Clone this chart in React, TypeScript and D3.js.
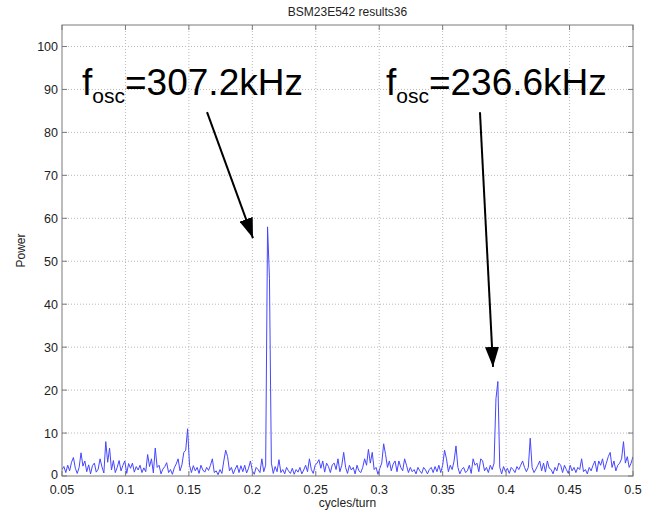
import React from "react";
import * as d3 from "d3";

// Spectrum sampled every 0.0015 cycles/turn starting at 0.05
const freqStart = 0.05;
const freqStep = 0.0015;
const power: number[] = [
  1.5, 2.2, 0.8, 2.5, 1.2, 3.2, 4.3, 1.8, 0.6, 2.0,
  5.4, 2.3, 3.5, 1.0, 2.6, 0.5, 2.4, 3.0, 0.9, 1.6,
  4.0, 2.1, 0.7, 8.0, 3.2, 6.5, 1.4, 3.6, 0.8, 2.0,
  3.6, 1.2, 2.5, 3.5, 0.6, 2.9, 1.8, 3.0, 0.9, 2.2,
  1.4, 2.5, 0.8, 1.9, 1.0, 5.0, 2.2, 4.0, 0.7, 6.5,
  2.0, 2.5, 0.5, 1.6, 2.2, 3.1, 0.8, 1.5, 0.4, 1.9,
  2.8, 4.0, 1.2, 2.6, 5.5, 6.0, 11.0, 2.5, 0.8, 2.4,
  1.2, 2.0, 0.6, 2.5, 1.4, 0.9, 2.0, 1.3, 2.5, 4.0,
  0.8, 1.2, 0.3, 1.5, 0.6, 3.5, 6.0, 4.5, 1.2, 2.0,
  0.5, 1.6, 2.5, 0.8, 2.4, 1.0, 2.5, 0.7, 1.8, 3.5,
  1.2, 0.4, 2.0, 1.5, 0.8, 4.0, 1.0, 2.5, 58.0, 46.0,
  3.0, 0.6, 2.2, 1.0, 3.8, 0.8, 1.5, 0.5, 2.0, 1.2,
  0.6, 1.8, 0.4, 1.5, 0.9, 2.0, 0.5, 1.4, 2.5, 1.0,
  4.0, 1.5, 0.6, 2.5, 3.0, 3.8, 1.8, 3.5, 0.9, 3.0,
  2.2, 0.8, 2.6, 3.0, 1.5, 4.0, 1.0, 2.5, 5.5, 2.0,
  0.6, 2.5, 1.4, 2.0, 0.5, 2.5, 1.2, 0.8, 2.0, 4.0,
  2.5, 6.2, 3.0, 5.5, 1.5, 2.0, 0.4, 1.8, 3.0, 7.5,
  5.0, 2.0, 3.5, 1.2, 2.8, 3.5, 1.0, 3.5, 2.0, 1.2,
  4.0, 2.5, 0.8, 2.0, 1.0, 1.5, 0.5, 2.0, 1.2, 0.6,
  2.0, 1.4, 0.5, 1.5, 2.0, 0.8, 2.2, 1.0, 2.5, 0.8,
  2.5, 6.0, 4.0, 1.0, 2.5, 1.5, 3.5, 7.0, 2.0, 0.5,
  1.5, 2.0, 0.8, 1.2, 2.5, 0.6, 4.0, 2.5, 3.0, 1.0,
  4.0, 3.5, 1.2, 2.0, 0.8, 2.5, 1.5, 3.0, 18.0, 22.0,
  2.0, 0.5, 2.2, 1.0, 1.8, 0.6, 2.0, 1.5, 0.8, 2.2,
  1.5, 2.5, 3.5, 2.0, 1.0, 2.0, 8.8, 2.0, 0.8, 1.6,
  2.5, 3.5, 1.2, 3.0, 0.9, 3.5, 1.8, 1.5, 0.5, 2.0,
  1.2, 3.0, 2.5, 0.8, 2.5, 1.5, 0.6, 2.5, 1.2, 2.0,
  0.8, 2.0, 1.5, 4.0, 1.0, 1.5, 0.5, 2.0, 1.2, 2.5,
  3.5, 1.0, 3.5, 2.5, 4.0, 1.5, 3.0, 4.5, 5.5, 2.0,
  3.5, 1.2, 2.5, 3.0, 4.0, 8.0, 3.0, 4.5, 2.0, 3.0,
  4.5,
];

const xTicks = [0.05, 0.1, 0.15, 0.2, 0.25, 0.3, 0.35, 0.4, 0.45, 0.5];
const yTicks = [0, 10, 20, 30, 40, 50, 60, 70, 80, 90, 100];

// Annotation labels: text anchor (data coords) and arrow from/to (data coords)
const labelValues = ["=307.2kHz", "=236.6kHz"];
const labelAnchors: [number, number][] = [
  [0.0658, 88.6],
  [0.3053, 88.6],
];
const arrowFrom: [number, number][] = [
  [0.1643, 84.7],
  [0.3794, 84.7],
];
const arrowTo: [number, number][] = [
  [0.2005, 55.4],
  [0.3897, 25.4],
];

const W = 652;
const H = 517;
const M = { left: 62, right: 19, top: 25, bottom: 41 };
const FONT = "'Liberation Sans', Arial, Helvetica, sans-serif";

export default function App() {
  const x = d3.scaleLinear().domain([0.05, 0.5]).range([M.left, W - M.right]);
  const y = d3.scaleLinear().domain([0, 105]).range([H - M.bottom, M.top]);
  const x0 = M.left;
  const x1 = W - M.right;
  const y0 = H - M.bottom;
  const y1 = M.top;

  const pts: [number, number][] = power.map((p, i) => [freqStart + i * freqStep, p]);
  const line = d3
    .line<[number, number]>()
    .x((d) => x(d[0]))
    .y((d) => y(d[1]));

  const axisColor = "#7a7a7a";
  const gridColor = "#b8b8b8";

  return (
    <svg
      width={W}
      height={H}
      style={{ position: "absolute", left: 0, top: 0, background: "#fff" }}
      fontFamily={FONT}
    >
      <defs>
        <marker
          id="arrowHead"
          viewBox="0 0 20 14"
          refX={20}
          refY={7}
          markerWidth={20}
          markerHeight={14}
          markerUnits="userSpaceOnUse"
          orient="auto"
        >
          <path d="M0,0 L20,7 L0,14 Z" fill="#000" />
        </marker>
        <clipPath id="plotClip">
          <rect x={x0} y={y1} width={x1 - x0} height={y0 - y1} />
        </clipPath>
      </defs>

      <rect x={x0} y={y1} width={x1 - x0} height={y0 - y1} fill="#fff" />

      {/* grid */}
      {xTicks.slice(1, -1).map((t) => (
        <line
          key={"gx" + t}
          x1={x(t)}
          x2={x(t)}
          y1={y0}
          y2={y1}
          stroke={gridColor}
          strokeWidth={1}
          strokeDasharray="1,2"
        />
      ))}
      {yTicks.slice(1).map((t) => (
        <line
          key={"gy" + t}
          x1={x0}
          x2={x1}
          y1={y(t)}
          y2={y(t)}
          stroke={gridColor}
          strokeWidth={1}
          strokeDasharray="1,2"
        />
      ))}

      {/* spectrum */}
      <path
        d={line(pts) ?? ""}
        fill="none"
        stroke="#4646ff"
        strokeWidth={1}
        strokeLinejoin="round"
        clipPath="url(#plotClip)"
      />

      {/* axes box and ticks */}
      <rect
        x={x0}
        y={y1}
        width={x1 - x0}
        height={y0 - y1}
        fill="none"
        stroke={axisColor}
        strokeWidth={1}
      />
      {xTicks.map((t) => (
        <g key={"tx" + t}>
          <line x1={x(t)} x2={x(t)} y1={y0} y2={y0 - 5} stroke={axisColor} />
          <line x1={x(t)} x2={x(t)} y1={y1} y2={y1 + 5} stroke={axisColor} />
          <text
            x={x(t)}
            y={y0 + 18}
            textAnchor="middle"
            fontSize={12.5}
            fill="#222"
          >
            {String(t)}
          </text>
        </g>
      ))}
      {yTicks.map((t) => (
        <g key={"ty" + t}>
          <line x1={x0} x2={x0 + 5} y1={y(t)} y2={y(t)} stroke={axisColor} />
          <line x1={x1} x2={x1 - 5} y1={y(t)} y2={y(t)} stroke={axisColor} />
          <text
            x={x0 - 4}
            y={y(t) + (t === 0 ? 3 : 4.5)}
            textAnchor="end"
            fontSize={12.5}
            fill="#222"
          >
            {t}
          </text>
        </g>
      ))}

      {/* titles */}
      <text x={(x0 + x1) / 2} y={16} textAnchor="middle" fontSize={12} fill="#222">
        BSM23E542 results36
      </text>
      <text x={(x0 + x1) / 2} y={507} textAnchor="middle" fontSize={12} fill="#222">
        cycles/turn
      </text>
      <text
        transform={`translate(25, ${(y0 + y1) / 2}) rotate(-90)`}
        textAnchor="middle"
        fontSize={12}
        fill="#222"
      >
        Power
      </text>

      {/* annotations */}
      {labelValues.map((lbl, i) => (
        <g key={"ann" + i}>
          <text x={x(labelAnchors[i][0])} y={y(labelAnchors[i][1])} fontSize={37} fill="#000">
            f
            <tspan fontSize={21} dy={8}>
              osc
            </tspan>
            <tspan dy={-8}>{lbl}</tspan>
          </text>
          <line
            x1={x(arrowFrom[i][0])}
            y1={y(arrowFrom[i][1])}
            x2={x(arrowTo[i][0])}
            y2={y(arrowTo[i][1])}
            stroke="#000"
            strokeWidth={2}
            markerEnd="url(#arrowHead)"
          />
        </g>
      ))}
    </svg>
  );
}
